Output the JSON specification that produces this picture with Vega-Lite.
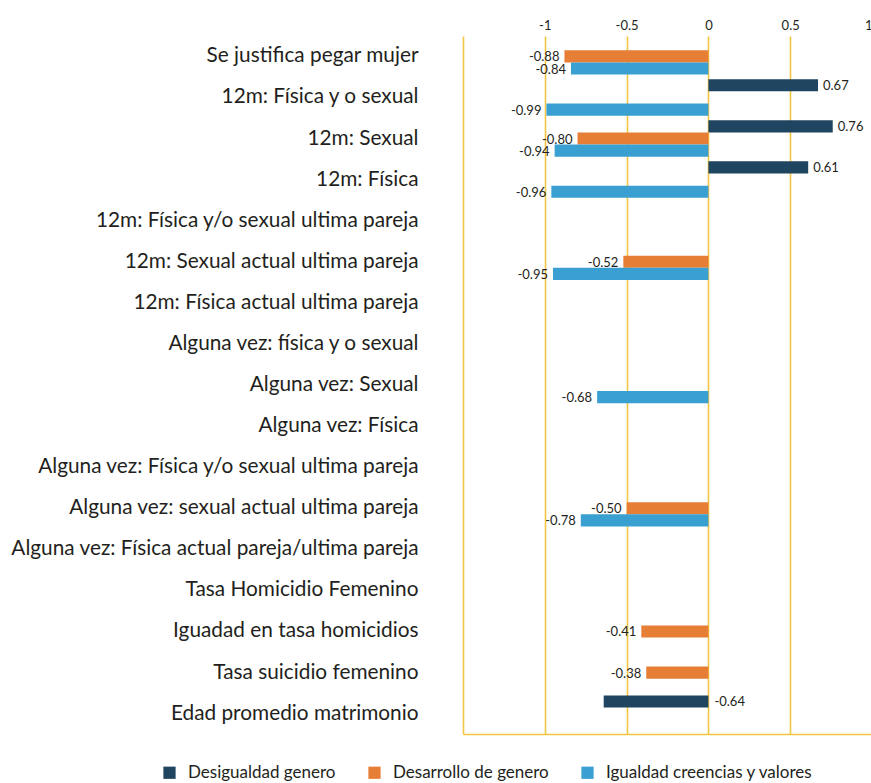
{
  "$schema": "https://vega.github.io/schema/vega-lite/v6.json",
  "width": 409,
  "height": 698,
  "padding": {"left": 10, "top": 19, "right": 0, "bottom": 0},
  "config": {
    "locale": {"number": {"decimal": ".", "thousands": ",", "grouping": [3], "currency": ["$", ""], "minus": "-"}},
    "view": {"stroke": null},
    "font": "Lato"
  },
  "data": {
    "values": [
      {"categoria": "Se justifica pegar mujer", "serie": "Desarrollo de genero", "valor": -0.88},
      {"categoria": "Se justifica pegar mujer", "serie": "Igualdad creencias y valores", "valor": -0.84},
      {"categoria": "12m: Física y o sexual", "serie": "Desigualdad genero", "valor": 0.67},
      {"categoria": "12m: Física y o sexual", "serie": "Igualdad creencias y valores", "valor": -0.99},
      {"categoria": "12m: Sexual", "serie": "Desigualdad genero", "valor": 0.76},
      {"categoria": "12m: Sexual", "serie": "Desarrollo de genero", "valor": -0.80},
      {"categoria": "12m: Sexual", "serie": "Igualdad creencias y valores", "valor": -0.94},
      {"categoria": "12m: Física", "serie": "Desigualdad genero", "valor": 0.61},
      {"categoria": "12m: Física", "serie": "Igualdad creencias y valores", "valor": -0.96},
      {"categoria": "12m: Sexual actual ultima pareja", "serie": "Desarrollo de genero", "valor": -0.52},
      {"categoria": "12m: Sexual actual ultima pareja", "serie": "Igualdad creencias y valores", "valor": -0.95},
      {"categoria": "Alguna vez: Sexual", "serie": "Igualdad creencias y valores", "valor": -0.68},
      {"categoria": "Alguna vez: sexual actual ultima pareja", "serie": "Desarrollo de genero", "valor": -0.50},
      {"categoria": "Alguna vez: sexual actual ultima pareja", "serie": "Igualdad creencias y valores", "valor": -0.78},
      {"categoria": "Iguadad en tasa homicidios", "serie": "Desarrollo de genero", "valor": -0.41},
      {"categoria": "Tasa suicidio femenino", "serie": "Desarrollo de genero", "valor": -0.38},
      {"categoria": "Edad promedio matrimonio", "serie": "Desigualdad genero", "valor": -0.64}
    ]
  },
  "encoding": {
    "y": {
      "field": "categoria",
      "type": "nominal",
      "title": null,
      "sort": null,
      "scale": {
        "domain": [
          "Se justifica pegar mujer",
          "12m: Física y o sexual",
          "12m: Sexual",
          "12m: Física",
          "12m: Física y/o sexual ultima pareja",
          "12m: Sexual actual ultima pareja",
          "12m: Física actual  ultima pareja",
          "Alguna vez: física y o sexual",
          "Alguna vez: Sexual",
          "Alguna vez: Física",
          "Alguna vez: Física y/o sexual ultima pareja",
          "Alguna vez: sexual actual ultima pareja",
          "Alguna vez: Física actual pareja/ultima pareja",
          "Tasa Homicidio Femenino",
          "Iguadad en tasa homicidios",
          "Tasa suicidio femenino",
          "Edad promedio matrimonio"
        ],
        "paddingInner": 0.11,
        "paddingOuter": 0.05
      },
      "axis": {
        "domain": false,
        "ticks": false,
        "grid": false,
        "labelFont": "Lato",
        "labelFontSize": 20.8,
        "labelColor": "#231f20",
        "labelPadding": 45,
        "labelLimit": 600
      }
    },
    "yOffset": {
      "field": "serie",
      "type": "nominal",
      "scale": {"domain": ["Desigualdad genero", "Desarrollo de genero", "Igualdad creencias y valores"]}
    }
  },
  "layer": [
    {
      "mark": {"type": "bar"},
      "encoding": {
        "x": {
          "field": "valor",
          "type": "quantitative",
          "title": null,
          "scale": {"domain": [-1.5, 1], "nice": false, "zero": false},
          "axis": {
            "orient": "top",
            "values": [-1.5, -1, -0.5, 0, 0.5, 1],
            "format": "~g",
            "labelExpr": "datum.value == -1.5 ? '' : datum.label",
            "domain": false,
            "ticks": false,
            "tickSize": 0,
            "labelPadding": 4,
            "labelFont": "Lato",
            "labelFontSize": 13,
            "labelColor": "#231f20",
            "grid": true,
            "gridColor": "#f4c542",
            "gridWidth": 1.6,
            "gridOpacity": 1
          }
        },
        "color": {
          "field": "serie",
          "type": "nominal",
          "scale": {
            "domain": ["Desigualdad genero", "Desarrollo de genero", "Igualdad creencias y valores"],
            "range": ["#1f4560", "#e67e36", "#3a9fd1"]
          },
          "legend": {
            "title": null,
            "orient": "none",
            "direction": "horizontal",
            "legendX": -302,
            "legendY": 728,
            "symbolType": "square",
            "symbolSize": 150,
            "symbolStrokeWidth": 0,
            "labelFont": "Lato",
            "labelFontSize": 17,
            "labelColor": "#231f20",
            "labelOffset": 10,
            "labelLimit": 400,
            "columnPadding": 30
          }
        }
      }
    },
    {
      "transform": [{"filter": "datum.valor < 0 && datum.serie != 'Desigualdad genero'"}],
      "mark": {"type": "text", "align": "right", "baseline": "middle", "dx": -5, "dy": 1, "fontSize": 13, "font": "Lato", "color": "#231f20"},
      "encoding": {
        "x": {
          "field": "valor",
          "type": "quantitative",
          "axis": {
            "orient": "bottom",
            "labels": false,
            "ticks": false,
            "grid": false,
            "title": null,
            "domain": true,
            "domainColor": "#f4c542",
            "domainWidth": 1.6
          }
        },
        "text": {"field": "valor", "type": "quantitative", "format": ".2f"}
      }
    },
    {
      "transform": [{"filter": "datum.valor >= 0"}],
      "mark": {"type": "text", "align": "left", "baseline": "middle", "dx": 5, "dy": 1, "fontSize": 13, "font": "Lato", "color": "#231f20"},
      "encoding": {
        "x": {"field": "valor", "type": "quantitative", "axis": null},
        "text": {"field": "valor", "type": "quantitative", "format": ".2f"}
      }
    },
    {
      "transform": [{"filter": "datum.valor < 0 && datum.serie == 'Desigualdad genero'"}],
      "mark": {"type": "text", "align": "left", "baseline": "middle", "dx": 6, "dy": 1, "fontSize": 13, "font": "Lato", "color": "#231f20"},
      "encoding": {
        "x": {"datum": 0, "type": "quantitative", "axis": null},
        "text": {"field": "valor", "type": "quantitative", "format": ".2f"}
      }
    }
  ],
  "resolve": {"axis": {"x": "independent"}}
}
